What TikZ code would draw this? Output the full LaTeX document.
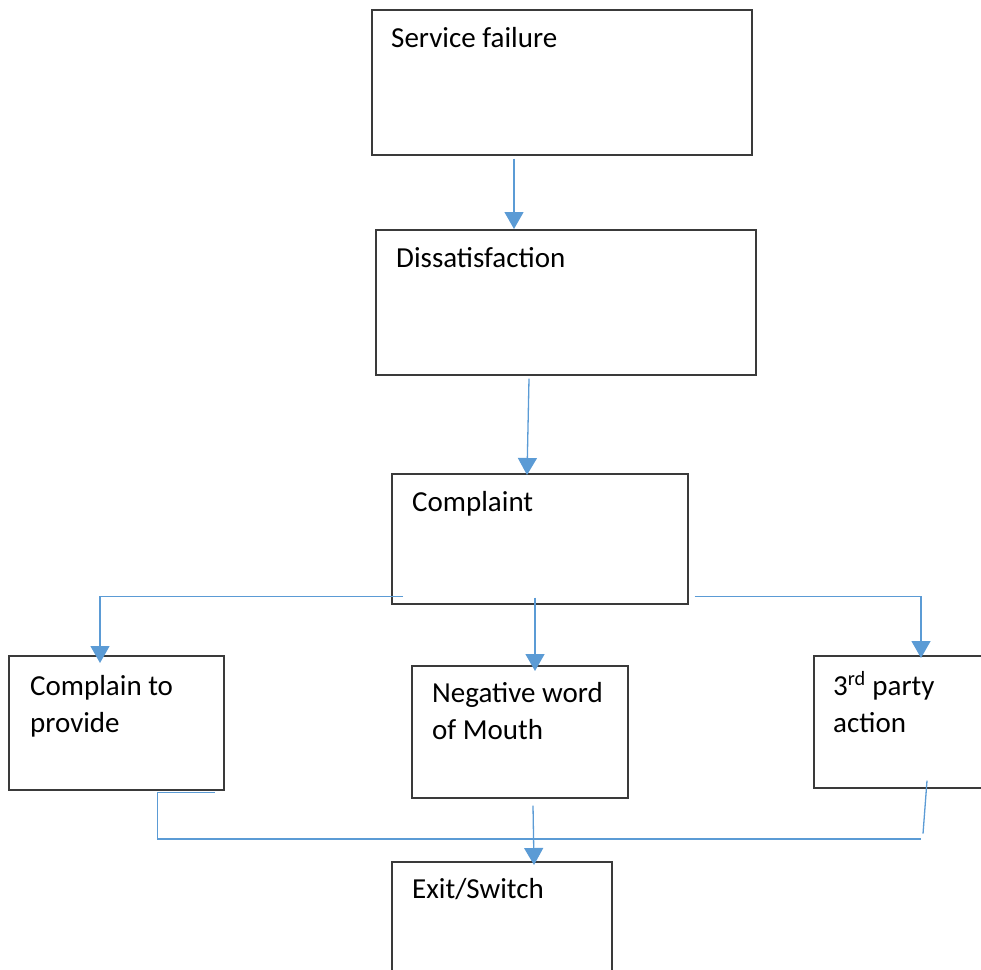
\documentclass[tikz,border=0pt]{standalone}
\usepackage{fontspec}
\setmainfont{Carlito}
\usepackage{tikz}
\usetikzlibrary{calc}
\usetikzlibrary{arrows.meta}

\definecolor{linkblue}{HTML}{5B9BD5}
\definecolor{boxgray}{HTML}{3A3A3A}

\tikzset{
  box/.style={draw=boxgray, line width=1.6pt, rectangle, anchor=north west, inner sep=0pt},
  txt/.style={anchor=base west, inner sep=0pt, align=left, font=\fontsize{29}{37}\selectfont},
  link/.style={draw=linkblue, line width=1.3pt, -{Triangle[width=19pt,length=17pt]}},
  line/.style={draw=linkblue, line width=1.3pt}
}

\begin{document}
\begin{tikzpicture}[x=1pt, y=-1pt]

\useasboundingbox (0, 0) rectangle (981, 969);

\node[box, minimum width=380pt, minimum height=145pt] (failure) at (371, 9) {};
\node[box, minimum width=380pt, minimum height=145pt] (dissat) at (375, 229) {};
\node[box, minimum width=296pt, minimum height=130pt] (complaint) at (391, 473) {};
\node[box, minimum width=215pt, minimum height=134pt] (complain) at (8, 655) {};
\node[box, minimum width=216pt, minimum height=132pt] (negative) at (411, 665) {};
\node[box, minimum width=200pt, minimum height=132pt] (third) at (813, 655) {};
\node[box, minimum width=220pt, minimum height=140pt] (exit) at (391, 861) {};

% multi-line labels sit on the baseline of their last line
\node[txt] (failuretxt) at (391, 47) {Service failure};
\node[txt] (dissattxt) at (396, 267) {Dissatisfaction};
\node[txt] (complainttxt) at (412, 511) {Complaint};
\node[txt] (complaintxt) at (30, 732) {Complain to\\provide};
\node[txt] (negativetxt) at (432, 739) {Negative word\\of Mouth};
\node[txt] (thirdtxt) at (833, 732) {3\textsuperscript{rd} party\\action};
\node[txt] (exittxt) at (412, 898) {Exit/Switch};

\draw[link] ([xshift=143pt, yshift=-3pt]failure.south west) -- ([xshift=139pt]dissat.north west);
\draw[link] ([xshift=154pt, yshift=-3pt]dissat.south west) -- ([xshift=136pt, yshift=-2pt]complaint.north west);

% branches out of the complaint box
\draw[link] ([xshift=12pt, yshift=8pt]complaint.south west) -| ([xshift=92pt, yshift=-8pt]complain.north west);
\draw[link] ([xshift=144pt, yshift=7pt]complaint.south west) -- ([xshift=124pt, yshift=-6pt]negative.north west);
\draw[link] ([xshift=6pt, yshift=8pt]complaint.south east) -| ([xshift=108pt, yshift=-3pt]third.north west);

% back together into exit
\coordinate (joint) at (921, 839);
\draw[line] ([xshift=-10pt, yshift=-2pt]complain.south east) -- ++(-57, 0) |- (joint);
\draw[line] ([xshift=110pt, yshift=-45pt]third.south west) -- ([xshift=114pt, yshift=8pt]third.south west);
\draw[link] ([xshift=122pt, yshift=-7pt]negative.south west) -- ([xshift=143pt, yshift=-4pt]exit.north west);

\end{tikzpicture}
\end{document}
